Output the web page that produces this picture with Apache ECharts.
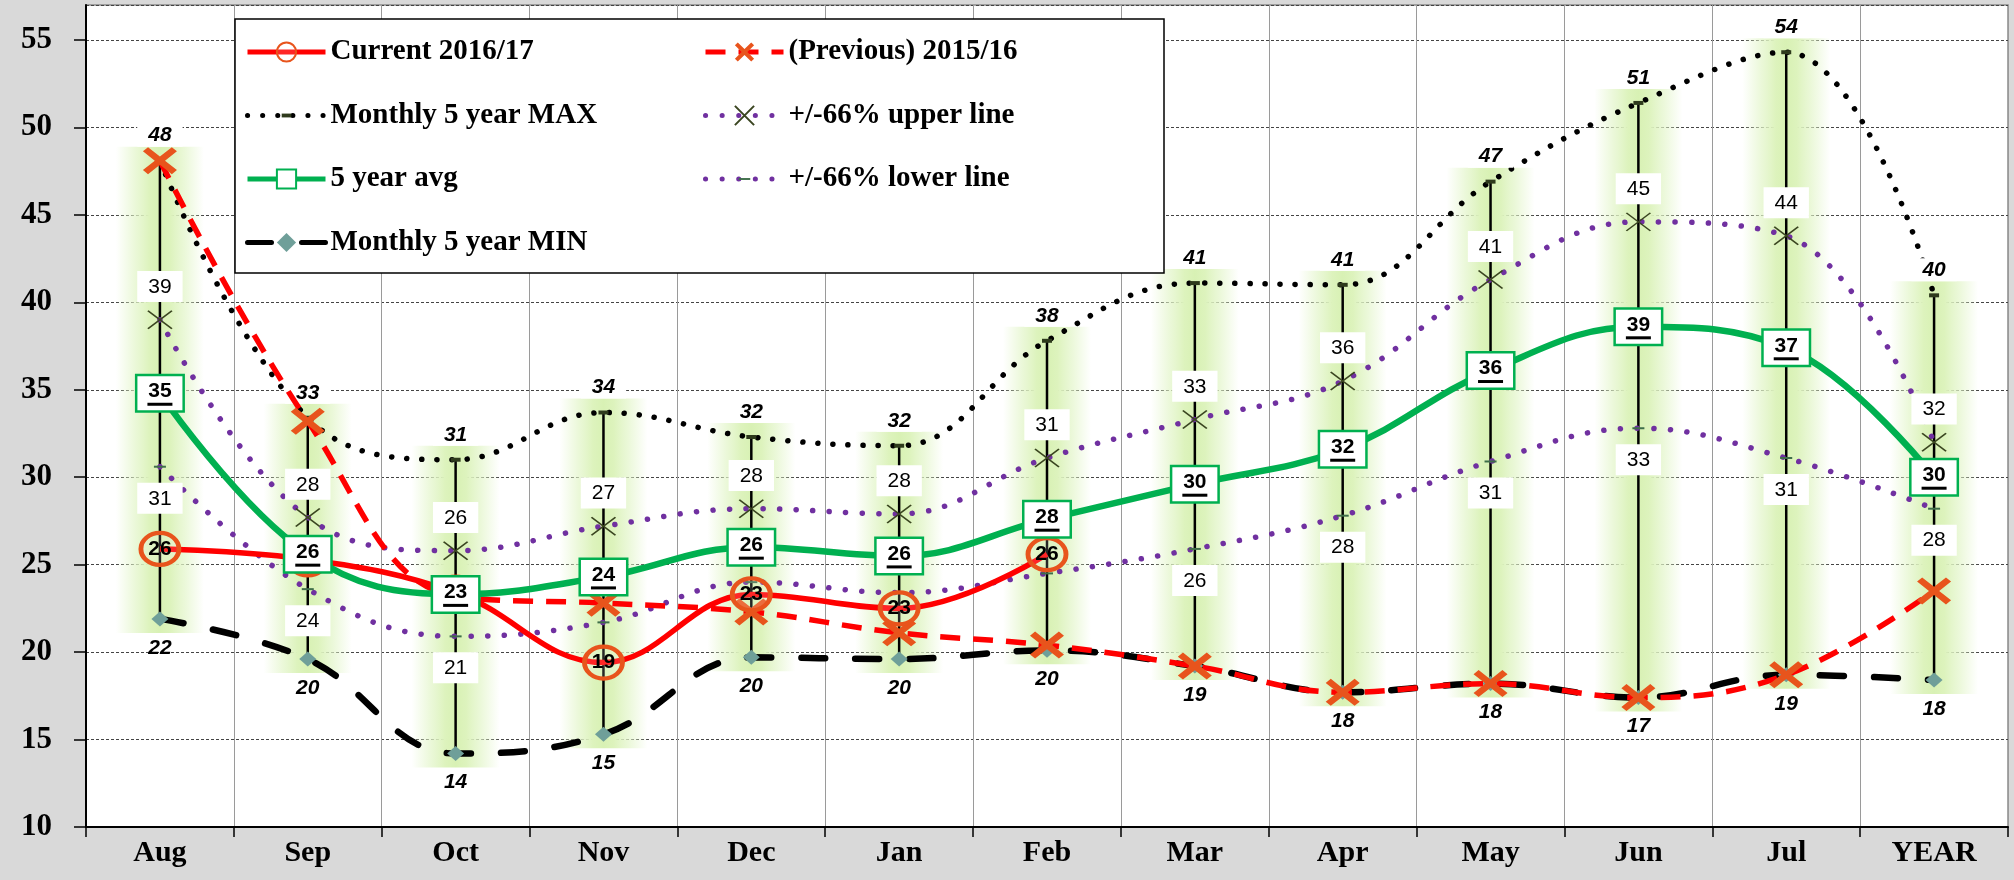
<!DOCTYPE html>
<html><head><meta charset="utf-8">
<script src="https://cdn.jsdelivr.net/npm/echarts@6/dist/echarts.min.js"></script>
<style>html,body{margin:0;padding:0;background:#d9d9d9}#c{width:2014px;height:880px}</style>
</head><body><div id="c"></div>
<script>
// ---- data ----
const categories = ['Aug','Sep','Oct','Nov','Dec','Jan','Feb','Mar','Apr','May','Jun','Jul','YEAR'];
const current2016 = [25.9, 25.3, 23.4, 19.4, 23.3, 22.5, 25.6, null, null, null, null, null, null];
const previous2015 = [48.1, 33.2, 23.2, 22.8, 22.3, 21.1, 20.4, 19.2, 17.7, 18.2, 17.4, 18.7, 23.5];
const max5 = [48.1, 33.4, 31.0, 33.7, 32.3, 31.8, 37.8, 41.1, 41.0, 46.9, 51.4, 54.3, 40.4];
const upper66 = [39.0, 27.7, 25.8, 27.2, 28.2, 27.9, 31.1, 33.3, 35.5, 41.3, 44.6, 43.8, 32.0];
const avg5 = [34.8, 25.6, 23.3, 24.3, 26.0, 25.5, 27.6, 29.6, 31.6, 36.1, 38.6, 37.4, 30.0];
const lower66 = [30.6, 23.6, 20.9, 21.7, 24.0, 23.4, 24.5, 25.9, 27.8, 30.9, 32.8, 31.1, 28.2];
const min5 = [21.9, 19.6, 14.2, 15.3, 19.7, 19.6, 20.1, 19.2, 17.7, 18.2, 17.4, 18.7, 18.4];
const lowerLabelShown = [true, true, true, false, false, false, false, true, true, true, true, true, true];
const currentLabelShown = [true, false, false, true, true, true, true];
const yMin = 10, yMax = 57, yInterval = 5;

// ---- chart ----
const SERIF = 'Liberation Serif', SANS = 'Liberation Sans';
const chart = echarts.init(document.getElementById('c'));
const round = p => Math.round(Array.isArray(p.value) ? p.value[1] : p.value);

const boxLabel = (pos, dist) => ({
  show: true, position: pos, distance: dist, formatter: round,
  fontFamily: SANS, fontSize: 21, color: '#000', backgroundColor: '#fff',
  padding: [5, 11, 4, 11], lineHeight: 22
});
const legendText = { fontFamily: SERIF, fontWeight: 'bold', fontSize: 29, color: '#000', lineHeight: 30 };

const option = {
  backgroundColor: '#d9d9d9',
  animation: false,
  grid: { left: 86, right: 6, top: 5, bottom: 53, show: true, backgroundColor: '#fff', borderColor: '#8a8a8a', borderWidth: 1.5 },
  xAxis: {
    type: 'category', data: categories, boundaryGap: true,
    axisLine: { show: true, lineStyle: { color: '#000', width: 2 } },
    axisTick: { show: true, length: 10, lineStyle: { color: '#000', width: 1.5 } },
    axisLabel: { fontFamily: SERIF, fontWeight: 'bold', fontSize: 30, color: '#000', margin: 11 },
    splitLine: { show: true, lineStyle: { color: '#9a9a9a', width: 1 } }
  },
  yAxis: {
    type: 'value', min: yMin, max: yMax, interval: yInterval,
    axisLine: { show: true, lineStyle: { color: '#000', width: 2 } },
    axisTick: { show: true, length: 12, lineStyle: { color: '#000', width: 1.5 } },
    axisLabel: { fontFamily: SERIF, fontWeight: 'bold', fontSize: 31, color: '#000', margin: 34, showMaxLabel: false },
    splitLine: { show: true, lineStyle: { color: '#444', width: 1, type: [3, 2] } }
  },
  legend: [
    {
      data: ['Current 2016/17', 'Monthly 5 year MAX', '5 year avg', 'Monthly 5 year MIN'],
      orient: 'vertical', left: 245, top: 37, padding: 0, itemWidth: 78, itemHeight: 24, itemGap: 33.5, z: 21,
      lineStyle: { width: 5 }, textStyle: legendText
    },
    {
      data: ['(Previous) 2015/16', '+/-66% upper line', '+/-66% lower line'],
      orient: 'vertical', left: 703, top: 37, padding: 0, itemWidth: 78, itemHeight: 24, itemGap: 33.5, z: 21,
      lineStyle: { width: 5 }, textStyle: legendText
    }
  ],
  graphic: [{
    type: 'rect', z: 20, shape: { x: 235, y: 19, width: 929, height: 254 },
    style: { fill: '#fff', stroke: '#000', lineWidth: 1.5 }
  }],
  series: [
    {
      name: 'range', type: 'custom', z: 1, silent: true,
      data: categories.map((c, i) => [i, min5[i], max5[i]]),
      renderItem: (params, api) => {
        const x = api.coord([api.value(0), api.value(1)])[0];
        const yb = api.coord([api.value(0), api.value(1)])[1];
        const yt = api.coord([api.value(0), api.value(2)])[1];
        const half = 44;
        return {
          type: 'group', children: [
            { type: 'rect', shape: { x: x - half, y: yt - 14, width: half * 2, height: yb - yt + 28 },
              style: { fill: { type: 'linear', x: 0, y: 0, x2: 1, y2: 0, colorStops: [
                { offset: 0, color: 'rgba(226,245,200,0)' }, { offset: 0.22, color: 'rgba(226,245,200,0.7)' },
                { offset: 0.38, color: '#ddf3bd' }, { offset: 0.5, color: '#d8f1b4' },
                { offset: 0.62, color: '#ddf3bd' }, { offset: 0.78, color: 'rgba(226,245,200,0.7)' },
                { offset: 1, color: 'rgba(226,245,200,0)' }] } } },
            { type: 'line', shape: { x1: x, y1: yt, x2: x, y2: yb }, style: { stroke: '#000', lineWidth: 2.5 } }
          ]
        };
      }
    },
    {
      name: '+/-66% lower line', type: 'line', z: 3, smooth: 0.4,
      data: lower66.map((v, i) => ({ value: v, label: { show: lowerLabelShown[i] } })),
      symbol: 'path://M0,0 M20,20 M4,9 L16,9 L16,11 L4,11 Z', symbolSize: 20,
      itemStyle: { color: '#3f6e4a' },
      lineStyle: { color: '#7030a0', width: 5.5, type: [0.1, 16.5], cap: 'round' },
      label: boxLabel('bottom', 6)
    },
    {
      name: '+/-66% upper line', type: 'line', z: 3, smooth: 0.4, data: upper66,
      symbol: 'path://M0,0 L10,10 M10,0 L0,10', symbolSize: [24, 18], symbolKeepAspect: false,
      itemStyle: { color: 'rgba(0,0,0,0)', borderColor: '#3a4520', borderWidth: 1.6 },
      lineStyle: { color: '#7030a0', width: 5.5, type: [0.1, 16.5], cap: 'round' },
      label: boxLabel('top', 8)
    },
    {
      name: 'Monthly 5 year MAX', type: 'line', z: 4, smooth: 0.4, data: max5,
      symbol: 'path://M0,0 M20,20 M5,8 L15,8 L15,12 L5,12 Z', symbolSize: 20, itemStyle: { color: '#2e3a1c' },
      lineStyle: { color: '#000', width: 5.5, type: [0.1, 15], cap: 'round' },
      label: { show: true, position: 'top', distance: 4, formatter: round, fontFamily: SANS, fontWeight: 'bold', fontStyle: 'italic',
        fontSize: 21, color: '#000', backgroundColor: '#fff', padding: [1, 11, 0, 11], lineHeight: 22 }
    },
    {
      name: 'Monthly 5 year MIN', type: 'line', z: 4, smooth: 0.4, data: min5,
      symbol: 'diamond', symbolSize: [17, 15], itemStyle: { color: '#6f9f99' },
      lineStyle: { color: '#000', width: 6.5, type: [24, 30], cap: 'round' },
      label: { show: true, position: 'bottom', distance: 11, formatter: round, fontFamily: SANS, fontWeight: 'bold', fontStyle: 'italic',
        fontSize: 21, color: '#000' }
    },
    {
      name: '(Previous) 2015/16', type: 'line', z: 5, smooth: 0.4, data: previous2015,
      symbol: 'path://M0,3 L3,0 L10,7 L17,0 L20,3 L13,10 L20,17 L17,20 L10,13 L3,20 L0,17 L7,10 Z',
      symbolSize: [34, 27], symbolKeepAspect: false,
      itemStyle: { color: '#e8541c' },
      lineStyle: { color: '#ff0000', width: 5.5, type: [20, 13] }
    },
    {
      name: 'Current 2016/17', type: 'line', z: 6, smooth: 0.4,
      data: current2016.map((v, i) => ({ value: v, label: { show: !!currentLabelShown[i] } })),
      symbol: 'circle', symbolSize: [38, 32],
      itemStyle: { color: 'rgba(255,255,255,0.15)', borderColor: '#e8541c', borderWidth: 4.5 },
      lineStyle: { color: '#ff0000', width: 5.5 },
      label: { show: true, position: 'inside', formatter: round, fontFamily: SANS, fontWeight: 'bold', fontSize: 21, color: '#000' }
    },
    {
      name: '5 year avg', type: 'line', z: 7, smooth: 0.4, data: avg5,
      symbol: 'rect', symbolSize: [40, 30],
      itemStyle: { color: '#fff', borderColor: '#00b050', borderWidth: 2.5 },
      lineStyle: { color: '#00b050', width: 6.5 },
      label: {
        show: true, position: 'inside',
        formatter: p => '{v|' + Math.round(p.value) + '}\n{u|}',
        backgroundColor: '#fff', borderColor: '#00b050', borderWidth: 2.5, padding: [4, 10, 4, 10],
        rich: {
          v: { fontFamily: SANS, fontWeight: 'bold', fontSize: 21, color: '#000', lineHeight: 22 },
          u: { width: 25, height: 3, backgroundColor: '#000', lineHeight: 4 }
        }
      }
    }
  ]
};
chart.setOption(option);
</script></body></html>
